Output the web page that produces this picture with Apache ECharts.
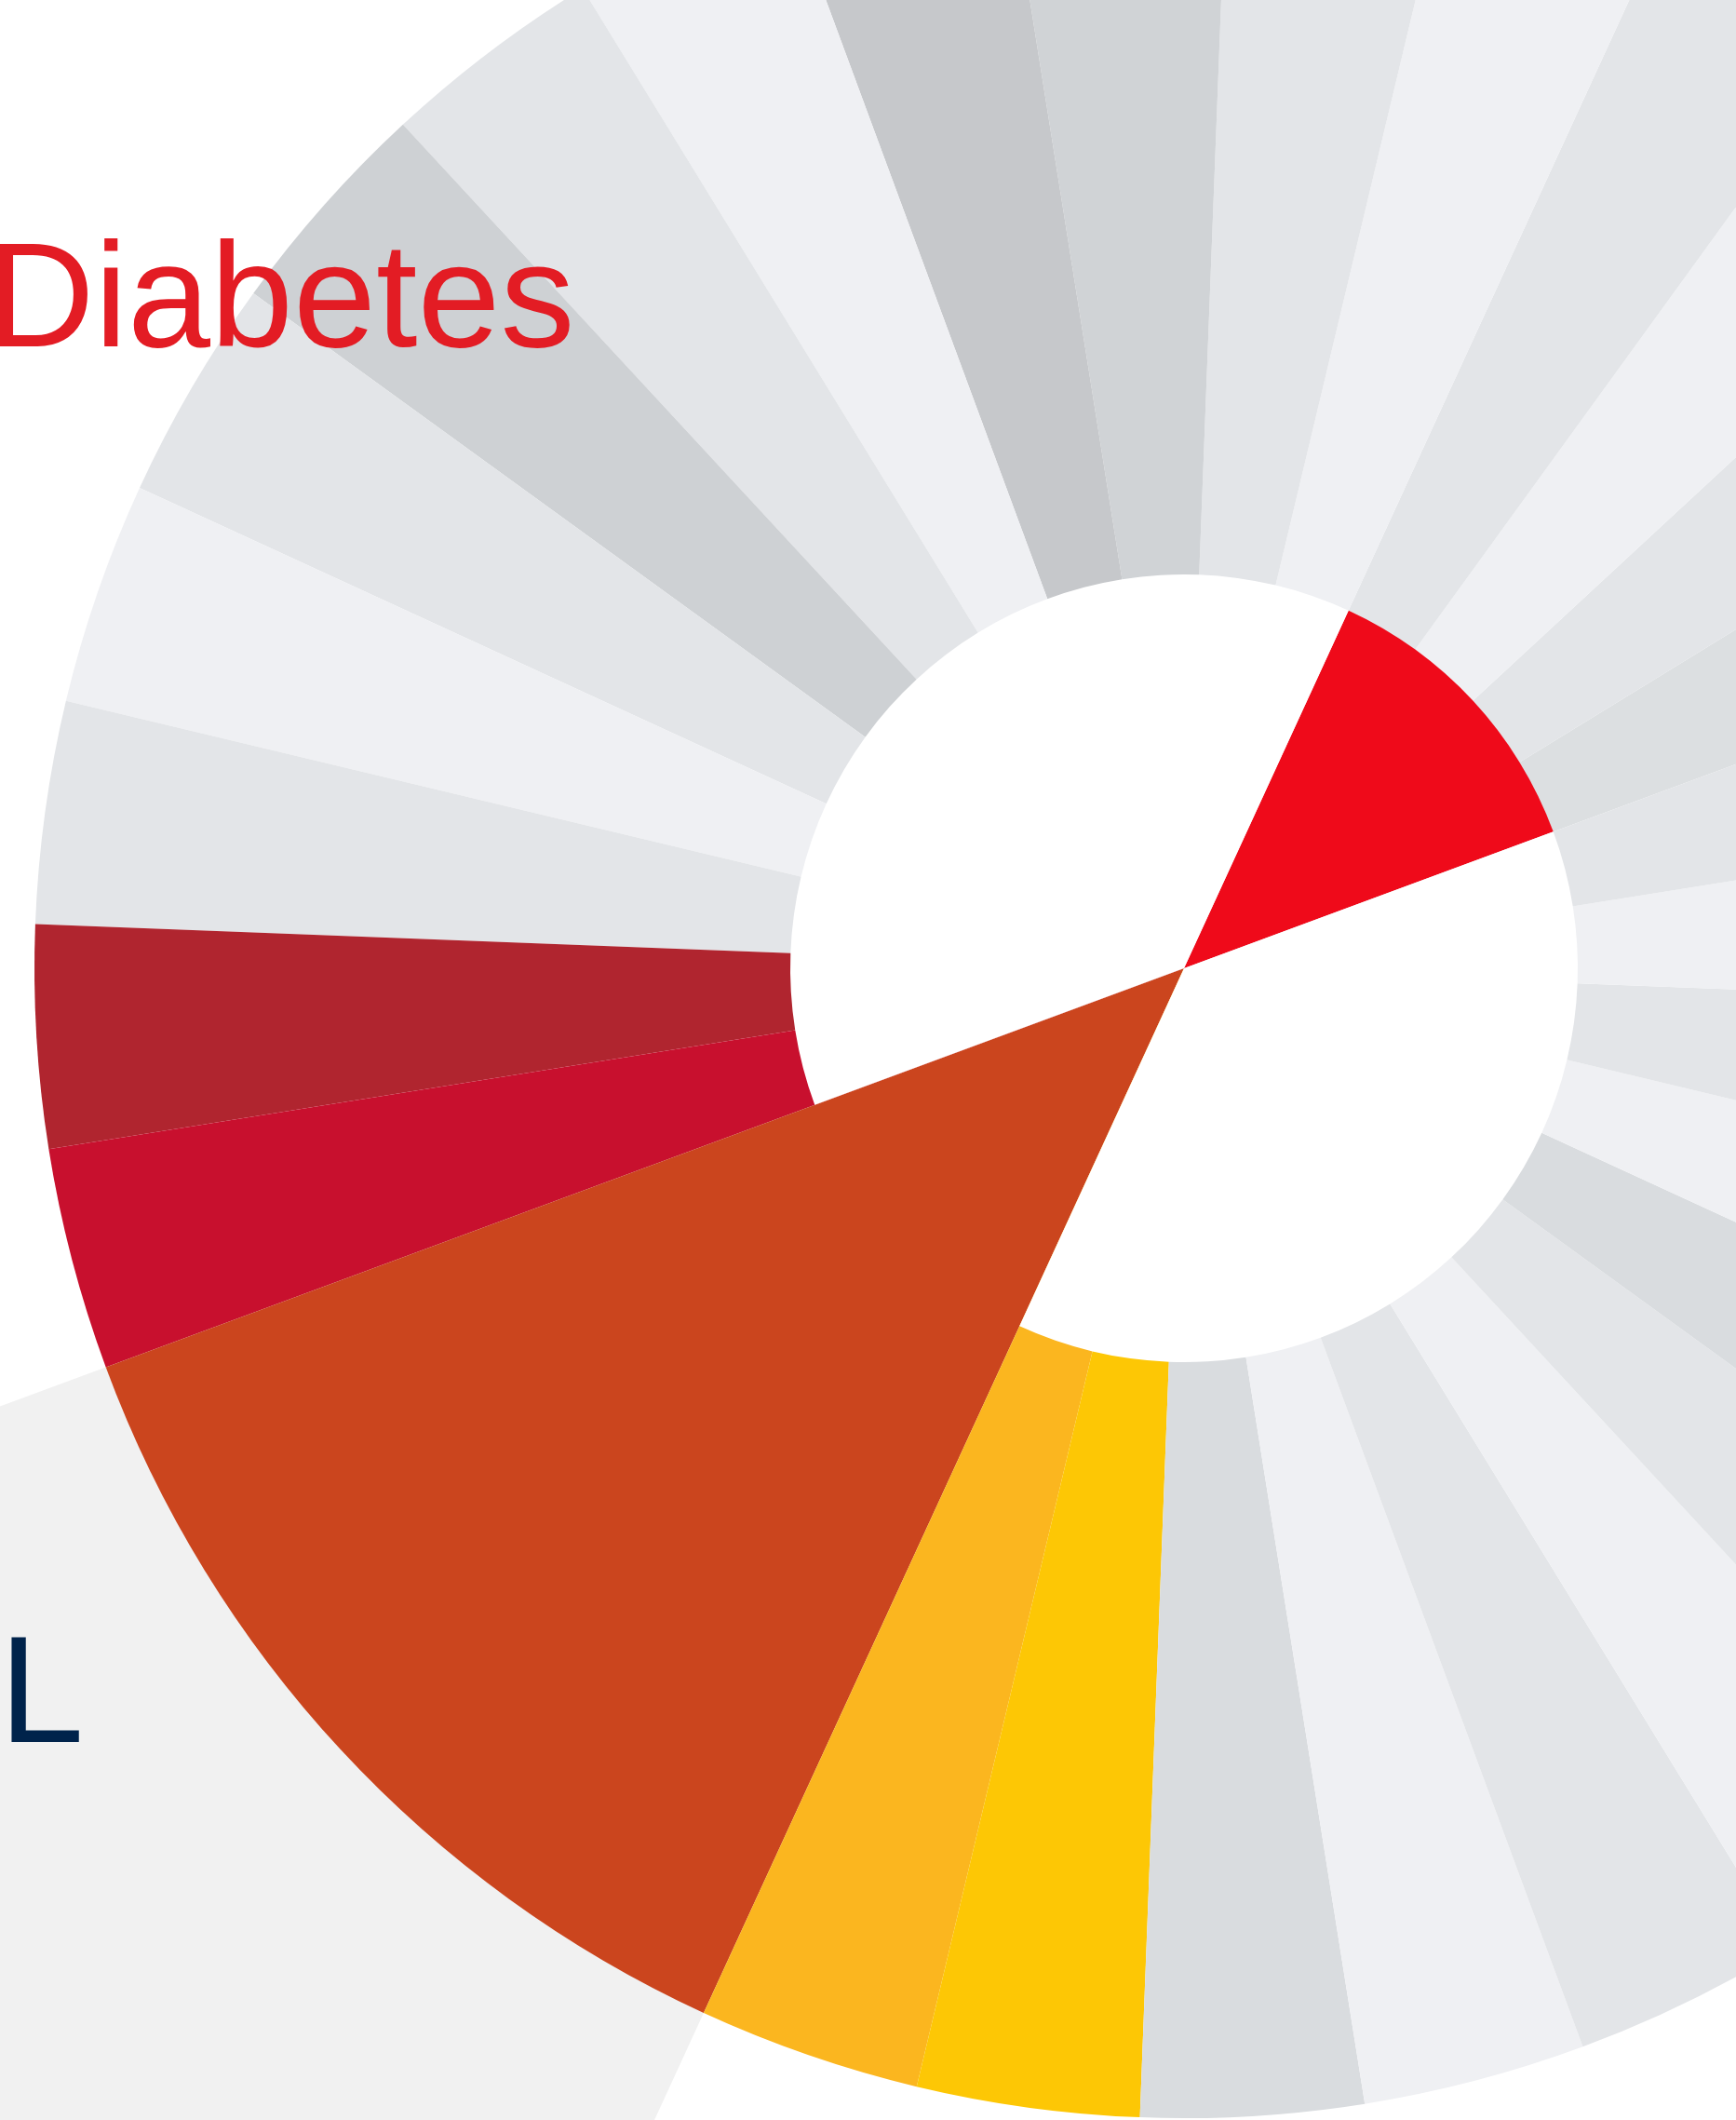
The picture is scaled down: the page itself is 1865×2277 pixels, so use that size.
<!DOCTYPE html>
<html>
<head>
<meta charset="utf-8">
<title>Diabetes</title>
<script src="https://cdn.jsdelivr.net/npm/echarts@6/dist/echarts.min.js"></script>
<style>
  html, body { margin: 0; padding: 0; background: #ffffff; }
  #chart { width: 1865px; height: 2277px; }
</style>
</head>
<body>
<div id="chart"></div>
<script>
// Outer ring: 32 equal wedges, read counter-clockwise from 20.3 degrees.
// The four orange wedges form one piece that runs down to the centre.
const ringNames = [
  'w01', 'w02', 'w03', 'w04', 'w05', 'w06', 'w07', 'w08',
  'w09', 'w10', 'w11', 'w12', 'w13', 'w14', 'w15', 'w16',
  'orange',
  'w21', 'w22', 'w23', 'w24', 'w25', 'w26', 'w27', 'w28',
  'w29', 'w30', 'w31', 'w32'
];
const ringSpan = [
  11.25, 11.25, 11.25, 11.25, 11.25, 11.25, 11.25, 11.25,
  11.25, 11.25, 11.25, 11.25, 11.25, 11.25, 11.25, 11.25,
  45,
  11.25, 11.25, 11.25, 11.25, 11.25, 11.25, 11.25, 11.25,
  11.25, 11.25, 11.25, 11.25
];
const ringColors = [
  '#dcdfe1', '#e3e5e8', '#eff0f3', '#e3e5e8', '#eff0f3', '#e3e5e8', '#d0d3d6', '#c6c8cb',
  '#eff0f3', '#e3e5e8', '#ced1d4', '#e3e5e8', '#eff0f3', '#e3e5e8', '#b0252f', '#c8102e',
  '#cb451e',
  '#fbb61f', '#fdc705', '#d9dcdf', '#eff0f3', '#e3e5e8', '#eff0f3', '#e3e5e8', '#d9dcdf',
  '#eff0f3', '#e3e5e8', '#eff0f3', '#e3e5e8'
];

// Hub: red wedge, white, gap for the orange piece, white.
const hubNames = ['red', 'hubA', 'gap', 'hubB'];
const hubSpan = [45, 135, 45, 135];
const hubColors = ['#ef0a1a', '#ffffff', 'rgba(0,0,0,0)', '#ffffff'];

// Pale backdrop continuing the orange wedge beyond the ring.
const haloNames = ['none1', 'shade', 'none2'];
const haloSpan = [180, 45, 135];
const haloColors = ['rgba(0,0,0,0)', '#f1f1f1', 'rgba(0,0,0,0)'];

const CENTER = [1272, 1040];
const START = 20.3;

function pieData(names, values, colors) {
  return names.map((n, i) => ({ name: n, value: values[i], itemStyle: { color: colors[i] } }));
}

function pieSeries(names, values, colors, radius, z) {
  return {
    type: 'pie',
    center: CENTER,
    radius: radius,
    startAngle: START,
    clockwise: false,
    z: z,
    silent: true,
    animation: false,
    avoidLabelOverlap: false,
    label: { show: false },
    labelLine: { show: false },
    emphasis: { disabled: true },
    itemStyle: { borderWidth: 0 },
    data: pieData(names, values, colors)
  };
}

const chart = echarts.init(document.getElementById('chart'), null, { renderer: 'canvas' });
chart.setOption({
  backgroundColor: '#ffffff',
  animation: false,
  series: [
    pieSeries(haloNames, haloSpan, haloColors, [0, 3200], 1),
    pieSeries(ringNames, ringSpan, ringColors, [0, 1235], 2),
    pieSeries(hubNames, hubSpan, hubColors, [0, 423], 3)
  ],
  graphic: [
    {
      type: 'text',
      x: -14,
      y: 328,
      z: 10,
      silent: true,
      style: {
        text: 'Diabetes',
        font: '160px "Liberation Sans", Arial, sans-serif',
        fill: '#e31c24',
        align: 'left',
        verticalAlign: 'middle',
        lineHeight: 160
      }
    },
    {
      type: 'text',
      x: -1,
      y: 1826,
      z: 10,
      silent: true,
      style: {
        text: 'L',
        font: '164px "Liberation Sans", Arial, sans-serif',
        fill: '#00234b',
        align: 'left',
        verticalAlign: 'middle',
        lineHeight: 164,
        shadowColor: 'rgba(0,0,0,0.16)',
        shadowBlur: 8,
        shadowOffsetX: 4,
        shadowOffsetY: 4
      }
    }
  ]
});
</script>
</body>
</html>
